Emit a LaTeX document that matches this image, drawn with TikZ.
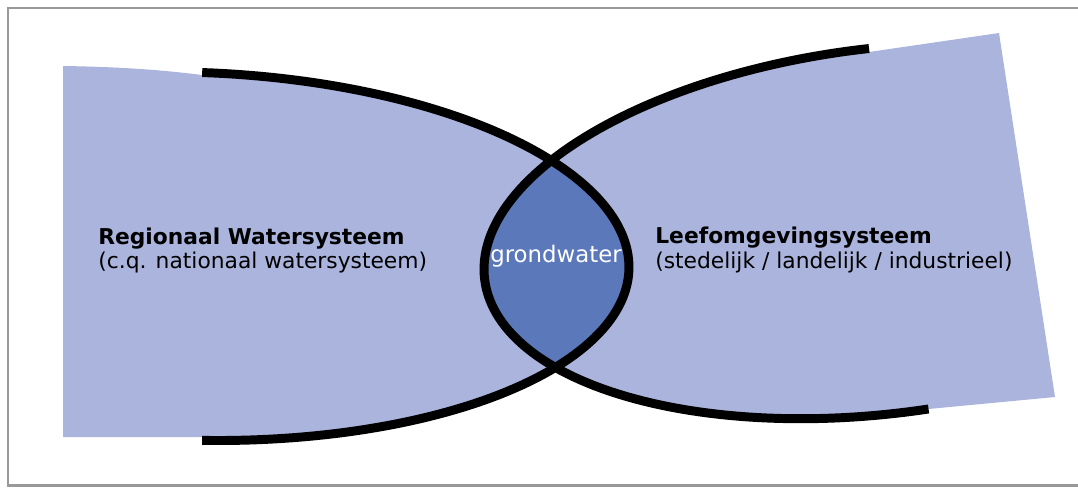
\documentclass[tikz,border=0pt]{standalone}
\usepackage{fontspec}
\setmainfont{DejaVu Sans}
\usepackage{tikz}
\definecolor{lightsys}{RGB}{170,180,220}
\definecolor{darksys}{RGB}{91,120,186}
\definecolor{framegray}{RGB}{153,153,153}

\begin{document}
\begin{tikzpicture}
[x=0.02cm,y=-0.02cm,
declare function={lx(\t)=191.5+437.5*cos(\t); ly(\t)=256.2+10.9*cos(\t)-184*sin(\t);
rx(\t)=881.5+397.5*cos(\t); ry(\t)=231-38.2*cos(\t)-183.8*sin(\t);},
rim/.style={line width=5.1pt,draw=black},
lbl/.style={anchor=base west,inner sep=0pt,font=\fontsize{12.4}{14}\selectfont},
hd/.style={lbl,font=\fontsize{12.4}{14}\selectfont\bfseries}]
\useasboundingbox (0,0) rectangle (1078,487);
\draw[framegray,line width=1.7pt] (8,8) rectangle (1086,485.5);
%%%%% LEFT SYSTEM
\fill[lightsys] (63,66) .. controls (130,67) and (170,71) .. (202,75)
	-- plot[domain=88.6:-88.6,samples=100,variable=\t] ({lx(\t)},{ly(\t)})
	-- (202,437) -- (63,437) -- cycle;
%%%%% RIGHT SYSTEM
\fill[lightsys] plot[domain=91.8:276.8,samples=100,variable=\t] ({rx(\t)},{ry(\t)})
	-- (1055,397) -- (999,33) -- (869,52) -- cycle;
%%%%% OVERLAP
\begin{scope}
\clip plot[domain=0:360,samples=150,variable=\t] ({lx(\t)},{ly(\t)}) -- cycle;
\fill[darksys] plot[domain=0:360,samples=150,variable=\t] ({rx(\t)},{ry(\t)}) -- cycle;
\end{scope}
%%%%% OUTLINES
\draw[rim] plot[domain=88.6:-88.6,samples=120,variable=\t] ({lx(\t)},{ly(\t)});
\draw[rim] plot[domain=91.8:276.8,samples=120,variable=\t] ({rx(\t)},{ry(\t)});
%%%%% LABELS
\node[hd] (regional) at (98,244) {Regionaal Watersysteem};
\node[lbl] (regionalsub) at (98,268) {(c.q. nationaal watersysteem)};
\node[hd] (living) at (655,243) {Leefomgevingsysteem};
\node[lbl] (livingsub) at (655,268) {(stedelijk / landelijk / industrieel)};
\node[white,anchor=base,inner sep=0pt,font=\fontsize{13}{15}\selectfont] (ground) at (556,262) {grondwater};
\end{tikzpicture}
\end{document}
